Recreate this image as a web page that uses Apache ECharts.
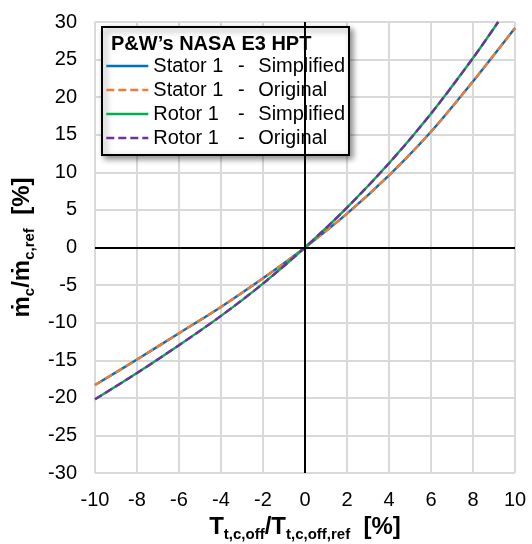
<!DOCTYPE html>
<html><head><meta charset="utf-8">
<script src="https://cdn.jsdelivr.net/npm/echarts@6/dist/echarts.min.js"></script>
<style>html,body{margin:0;padding:0;background:#fff}#c{width:532px;height:544px}</style>
</head><body><div id="c"></div>
<script>
// Data
const statorX = [-10, -8, -6, -4, -2, 0, 2, 4, 6, 8, 10];
const statorSimplified = [-18.3, -14.9, -11.4, -7.9, -4.1, 0, 4.5, 9.6, 15.4, 22.1, 29.2];
const statorOriginal   = [-18.3, -14.9, -11.4, -7.9, -4.1, 0, 4.5, 9.6, 15.4, 22.1, 29.2];
const rotorX = [-10, -8, -6, -4, -2, 0, 2, 4, 6, 8, 9.2];
const rotorSimplified = [-20.2, -16.7, -13.0, -9.1, -4.8, 0, 5.3, 11.2, 17.8, 25.2, 30.0];
const rotorOriginal   = [-20.2, -16.7, -13.0, -9.1, -4.8, 0, 5.3, 11.2, 17.8, 25.2, 30.0];
const seriesNames = ['Stator 1 - Simplified', 'Stator 1 - Original', 'Rotor 1 - Simplified', 'Rotor 1 - Original'];
const legendTitle = 'P&W\u2019s NASA E3 HPT';
const xTicks = {min: -10, max: 10, interval: 2};
const yTicks = {min: -30, max: 30, interval: 5};

const FONT = 'Liberation Sans';
const pairs = (xs, ys) => xs.map((x, i) => [x, ys[i]]);

const chart = echarts.init(document.getElementById('c'), null, {renderer: 'canvas'});
const mk = (name, xs, ys, color, dashed, extra) => Object.assign({
  name, type: 'line', data: pairs(xs, ys), symbol: 'none', smooth: 0.3,
  lineStyle: {color, width: 2.4, type: dashed ? [8, 4] : 'solid'},
  itemStyle: {color}, emphasis: {disabled: true}, silent: true
}, extra || {});

const subPad = [15, 0, 0, 0];
const nameRich = {
  m: {fontFamily: FONT, fontSize: 24, fontWeight: 'bold', color: '#000'},
  s: {fontFamily: FONT, fontSize: 15, fontWeight: 'bold', color: '#000', padding: subPad}
};
chart.setOption({
  animation: false,
  textStyle: {fontFamily: FONT},
  grid: {left: 95, right: 17, top: 22, bottom: 71, containLabel: false, outerBoundsMode: 'none'},
  title: {
    text: legendTitle, left: 106, top: 29, z: 20,
    textStyle: {fontFamily: FONT, fontSize: 20, fontWeight: 'bold', color: '#000'}
  },
  legend: {
    orient: 'vertical', left: 102, top: 27,
    padding: [29, 4, 7, 3],
    itemWidth: 42, itemHeight: 14, itemGap: 4,
    itemStyle: {opacity: 0},
    lineStyle: {width: 2.6},
    backgroundColor: '#fff', borderColor: '#000', borderWidth: 2,
    shadowBlur: 6, shadowOffsetX: 3, shadowOffsetY: 3, shadowColor: 'rgba(0,0,0,0.45)',
    data: seriesNames,
    formatter: function (n) {
      const p = n.split(' - ');
      return '{a|' + p[0] + '}{b|-}{c|' + p[1] + '}';
    },
    textStyle: {
      fontFamily: FONT, fontSize: 20, color: '#000', lineHeight: 20,
      rich: {
        a: {fontFamily: FONT, fontSize: 20, width: 80, color: '#000'},
        b: {fontFamily: FONT, fontSize: 20, width: 16, align: 'center', color: '#000'},
        c: {fontFamily: FONT, fontSize: 20, padding: [0, 0, 0, 9], color: '#000'}
      }
    }
  },
  xAxis: {
    type: 'value', min: xTicks.min, max: xTicks.max, interval: xTicks.interval,
    axisLine: {show: false}, axisTick: {show: false},
    axisLabel: {fontFamily: FONT, fontSize: 20, color: '#000', margin: 17},
    splitLine: {show: true, lineStyle: {color: '#d9d9d9', width: 2}},
    name: '{m|T}{s|t,c,off}{m|/T}{s|t,c,off,ref}{m|  [%]}',
    nameLocation: 'middle', nameGap: 38,
    nameTextStyle: {rich: nameRich}
  },
  yAxis: {
    type: 'value', min: yTicks.min, max: yTicks.max, interval: yTicks.interval,
    axisLine: {show: false}, axisTick: {show: false},
    axisLabel: {fontFamily: FONT, fontSize: 20, color: '#000', margin: 18},
    splitLine: {show: true, lineStyle: {color: '#d9d9d9', width: 2}},
    name: '{m|\u1E41}{s|c}{m|/\u1E41}{s|c,ref}{m|  [%]}',
    nameLocation: 'middle', nameGap: 53,
    nameTextStyle: {rich: nameRich}
  },
  series: [
    mk(seriesNames[0], statorX, statorSimplified, '#0070C0', false, {
      markLine: {
        silent: true, symbol: 'none', label: {show: false}, animation: false,
        lineStyle: {color: '#000', width: 2, type: 'solid'},
        data: [{xAxis: 0}, {yAxis: 0}]
      }
    }),
    mk(seriesNames[1], statorX, statorOriginal, '#ED7D31', true),
    mk(seriesNames[2], rotorX, rotorSimplified, '#00B050', false),
    mk(seriesNames[3], rotorX, rotorOriginal, '#7030A0', true)
  ]
});
</script></body></html>
